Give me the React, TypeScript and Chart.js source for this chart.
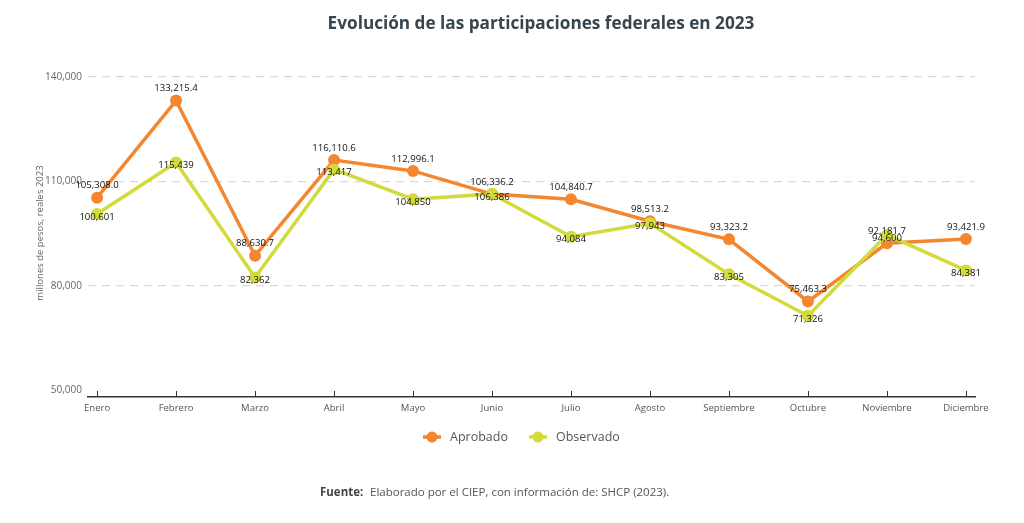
import React, { useEffect, useRef } from "react";
import { Chart, registerables } from "chart.js";

Chart.register(...registerables);

const months = ["Enero", "Febrero", "Marzo", "Abril", "Mayo", "Junio", "Julio", "Agosto", "Septiembre", "Octubre", "Noviembre", "Diciembre"];
const aprobado = [105308.0, 133215.4, 88630.7, 116110.6, 112996.1, 106336.2, 104840.7, 98513.2, 93323.2, 75463.3, 92181.7, 93421.9];
const observado = [100601, 115439, 82362, 113417, 104850, 106386, 94084, 97943, 83305, 71326, 94600, 84381];
const yTicks = [50000, 80000, 110000, 140000];

const TITLE = "Evolución de las participaciones federales en 2023";
const Y_TITLE = "millones de pesos, reales 2023";
const SOURCE_BOLD = "Fuente:";
const SOURCE_TEXT = "Elaborado por el CIEP, con información de: SHCP (2023).";

const ORANGE = "#F4862F";
const LIME = "#D3DA3C";
const FONT = "'Open Sans', 'Noto Sans', sans-serif";

const fmt1 = (v: number) => v.toLocaleString("en-US", { minimumFractionDigits: 1, maximumFractionDigits: 1 });
const fmt0 = (v: number) => v.toLocaleString("en-US", { maximumFractionDigits: 0 });

const decorPlugin = {
  id: "decor",
  beforeDraw(chart: any) {
    const ctx = chart.ctx;
    ctx.save();
    ctx.fillStyle = "#ffffff";
    ctx.fillRect(0, 0, chart.width, chart.height);
    ctx.restore();
  },
  afterDatasetsDraw(chart: any) {
    const ctx = chart.ctx;
    ctx.save();
    ctx.font = `9.6px ${FONT}`;
    ctx.fillStyle = "#111";
    ctx.textAlign = "center";
    ctx.textBaseline = "middle";
    const m0 = chart.getDatasetMeta(0);
    const m1 = chart.getDatasetMeta(1);
    m0.data.forEach((p: any, i: number) => {
      ctx.fillText(fmt1(aprobado[i]), p.x, p.y - 12);
    });
    m1.data.forEach((p: any, i: number) => {
      ctx.fillText(fmt0(observado[i]), p.x, p.y + 3);
    });
    ctx.restore();
  },
  afterDraw(chart: any) {
    const ctx = chart.ctx;
    ctx.save();
    // inward x ticks
    const xs = chart.scales.x;
    const bottom = chart.chartArea.bottom;
    ctx.strokeStyle = "#333";
    ctx.lineWidth = 1;
    months.forEach((_, i) => {
      const px = Math.round(xs.getPixelForValue(i)) + 0.5;
      ctx.beginPath();
      ctx.moveTo(px, bottom - 6);
      ctx.lineTo(px, bottom);
      ctx.stroke();
    });

    // title
    let size = 19;
    ctx.font = `bold ${size}px ${FONT}`;
    const w = ctx.measureText(TITLE).width;
    size = size * 427 / w;
    ctx.font = `bold ${size}px ${FONT}`;
    ctx.fillStyle = "#37454f";
    ctx.textAlign = "center";
    ctx.textBaseline = "middle";
    ctx.fillText(TITLE, 541, 24);

    // y title
    ctx.save();
    ctx.translate(40, 233);
    ctx.rotate(-Math.PI / 2);
    ctx.font = `9.5px ${FONT}`;
    ctx.fillStyle = "#666";
    ctx.fillText(Y_TITLE, 0, 0);
    ctx.restore();

    // legend
    const items = [
      { label: "Aprobado", color: ORANGE, x: 432 },
      { label: "Observado", color: LIME, x: 538 },
    ];
    const ly = 437;
    items.forEach((it) => {
      ctx.strokeStyle = it.color;
      ctx.lineWidth = 3.5;
      ctx.beginPath();
      ctx.moveTo(it.x - 9, ly);
      ctx.lineTo(it.x + 9, ly);
      ctx.stroke();
      ctx.fillStyle = it.color;
      ctx.beginPath();
      ctx.arc(it.x, ly, 5.5, 0, Math.PI * 2);
      ctx.fill();
      ctx.font = `12.5px ${FONT}`;
      ctx.fillStyle = "#555";
      ctx.textAlign = "left";
      ctx.fillText(it.label, it.x + 18, ly);
    });

    // source
    ctx.textAlign = "left";
    ctx.font = `bold 11.5px ${FONT}`;
    ctx.fillStyle = "#444";
    ctx.fillText(SOURCE_BOLD, 320, 493);
    ctx.font = `11.5px ${FONT}`;
    ctx.fillStyle = "#555";
    ctx.fillText(SOURCE_TEXT, 370, 493);
    ctx.restore();
  },
};

export default function App() {
  const ref = useRef<HTMLCanvasElement | null>(null);
  useEffect(() => {
    if (!ref.current) return;
    const chart = new Chart(ref.current, {
      type: "line",
      data: {
        datasets: [
          {
            label: "Aprobado",
            data: aprobado.map((v, i) => ({ x: i, y: v })),
            borderColor: ORANGE,
            backgroundColor: ORANGE,
            borderWidth: 3.5,
            pointRadius: 6,
            pointBorderWidth: 0,
            order: 1,
          },
          {
            label: "Observado",
            data: observado.map((v, i) => ({ x: i, y: v })),
            borderColor: LIME,
            backgroundColor: LIME,
            borderWidth: 3.5,
            pointRadius: 6,
            pointBorderWidth: 0,
            order: 0,
          },
        ],
      },
      options: {
        animation: false,
        responsive: false,
        layout: { padding: { top: 77, right: 49, left: 0, bottom: 0 } },
        plugins: { legend: { display: false }, tooltip: { enabled: false }, title: { display: false } },
        scales: {
          x: {
            type: "linear",
            min: -0.115,
            max: 11.115,
            afterBuildTicks: (axis: any) => {
              axis.ticks = months.map((_, i) => ({ value: i }));
            },
            afterFit: (s: any) => {
              s.height = 126;
            },
            ticks: {
              autoSkip: false,
              maxRotation: 0,
              padding: 6,
              color: "#555",
              font: { size: 9.5, family: FONT },
              callback: (v: any) => months[Math.round(v)] ?? "",
            },
            grid: { display: false, drawTicks: false },
            border: { display: true, color: "#333", width: 1.5 },
          },
          y: {
            type: "linear",
            min: 48000,
            max: 140000,
            afterBuildTicks: (axis: any) => {
              axis.ticks = yTicks.map((v) => ({ value: v }));
            },
            afterFit: (s: any) => {
              s.width = 88;
            },
            ticks: {
              padding: 6,
              color: "#666",
              font: { size: 10, family: FONT },
              callback: (v: any) => Number(v).toLocaleString("en-US"),
            },
            grid: {
              drawTicks: false,
              color: (c: any) => (c.tick && c.tick.value === 50000 ? "rgba(0,0,0,0)" : "#d9d9d9"),
              lineWidth: 1.2,
            },
            border: { display: false, dash: [8, 6] },
          },
        },
      },
      plugins: [decorPlugin],
    });
    return () => chart.destroy();
  }, []);
  return (
    <div style={{ position: "fixed", left: 0, top: 0, width: 1024, height: 523, background: "#fff" }}>
      <canvas ref={ref} width={1024} height={523} style={{ display: "block", width: 1024, height: 523 }} />
    </div>
  );
}
